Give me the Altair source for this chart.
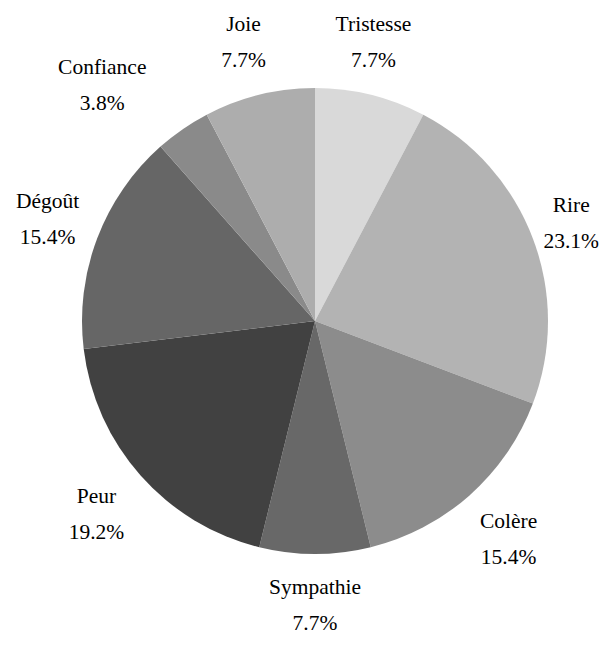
import altair as alt
import pandas as pd
import math

categories = ["Tristesse", "Rire", "Colère", "Sympathie", "Peur", "Dégoût", "Confiance", "Joie"]
values = [2, 6, 4, 2, 5, 4, 1, 2]
percents = ["7.7%", "23.1%", "15.4%", "7.7%", "19.2%", "15.4%", "3.8%", "7.7%"]
colors = ["#d9d9d9", "#b3b3b3", "#8c8c8c", "#686868", "#414141", "#666666", "#8a8a8a", "#adadad"]

df = pd.DataFrame({
    "cat": categories,
    "val": values,
    "pct": percents,
    "idx": list(range(len(categories))),
})
df["label"] = df["cat"] + "\n" + df["pct"]

CX, CY = 307, 313
theta_scale = alt.Scale(domain=[0, 1], range=[0, 2 * math.pi])
FONT = "Liberation Serif"

base = alt.Chart(df).transform_window(
    cum="sum(val)", sort=[alt.SortField("idx", order="ascending")]
).transform_joinaggregate(
    total="sum(val)"
).transform_calculate(
    t1="datum.cum / datum.total",
    t0="(datum.cum - datum.val) / datum.total",
    tm="(datum.cum - datum.val / 2) / datum.total",
).encode(
    x=alt.value(CX),
    y=alt.value(CY),
)

pie = base.mark_arc(radius=233, stroke=None).encode(
    theta=alt.Theta("t0:Q", scale=theta_scale),
    theta2="t1:Q",
    color=alt.Color("cat:N", scale=alt.Scale(domain=categories, range=colors), legend=None),
)

def label_layer(radius, cat, dx=0, dy=-18):
    return base.transform_filter(alt.datum.cat == cat).mark_text(
        radius=radius, dx=dx, dy=dy, lineBreak="\n", font=FONT,
        fontSize=21.5, lineHeight=36, baseline="middle", align="center", color="#000000"
    ).encode(
        theta=alt.Theta("tm:Q", scale=theta_scale),
        text="label:N",
    )

layers = [
    pie,
    label_layer(286, "Tristesse", dx=-10),
    label_layer(286, "Joie", dx=-3),
    label_layer(286, "Dégoût"),
    label_layer(292, "Colère"),
    label_layer(292, "Peur"),
    label_layer(285, "Sympathie"),
    label_layer(274, "Rire"),
    label_layer(290, "Confiance", dx=-48, dy=-14),
]

chart = alt.layer(*layers).properties(
    width=597, height=630,
    autosize=alt.AutoSizeParams(type="none"),
    padding=0,
).configure_view(stroke=None)

chart.save("out.html", embed_options={"renderer": "svg", "actions": False})
